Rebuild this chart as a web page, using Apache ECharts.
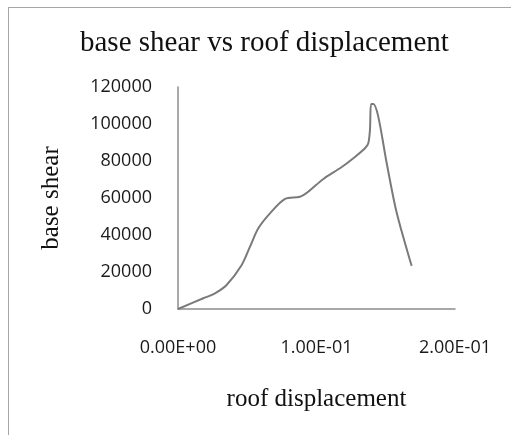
<!DOCTYPE html>
<html>
<head>
<meta charset="utf-8">
<script src="https://cdn.jsdelivr.net/npm/echarts@6/dist/echarts.min.js"></script>
<style>
  html, body { margin: 0; padding: 0; background: #fff; overflow: hidden; }
  .frame {
    position: absolute;
    left: 8px;
    top: 7px;
    width: 540px;
    height: 460px;
    border: 1px solid #a6a6a6;
  }
  #chart {
    position: absolute;
    top: 0;
    left: 0;
    width: 511px;
    height: 435px;
  }
</style>
</head>
<body>
<div class="frame"></div>
<div id="chart"></div>
<script>
// roof displacement (x) and base shear (y)
const displacement = [0, 0.0183, 0.0267, 0.0351, 0.046, 0.052, 0.058, 0.0664, 0.0773, 0.088, 0.094,
  0.105, 0.118, 0.1266, 0.135, 0.1374, 0.1386, 0.1394, 0.141, 0.1446, 0.1507, 0.158, 0.1687]
const baseShear = [0, 5800, 8500, 13000, 23800, 33700, 43600, 51700, 59500, 60700, 63400,
  70300, 76600, 81500, 86900, 89600, 96900, 110800, 110800, 104000, 78800, 51700, 23300]
const yTicks = [0, 120000, 20000]   // min, max, interval
const xTicks = [0, 0.2, 0.1]

function sci(v) {
  const s = v.toExponential(2).split('e')
  let exp = parseInt(s[1], 10)
  const sign = exp < 0 ? '-' : '+'
  exp = Math.abs(exp)
  return s[0] + 'E' + sign + (exp < 10 ? '0' + exp : exp)
}

const chart = echarts.init(document.getElementById('chart'))
const labelFont = {
  color: '#1a1a1a',
  fontFamily: 'Open Sans',
  fontSize: 18
}
const option = {
  animation: false,
  title: {
    text: 'base shear vs roof displacement',
    left: 75,
    top: 24,
    textStyle: {
      fontFamily: 'Liberation Serif',
      fontWeight: 'normal',
      fontSize: 29,
      color: '#111'
    }
  },
  grid: {
    left: 178,
    right: 56,
    top: 87,
    bottom: 126
  },
  xAxis: {
    type: 'value',
    min: xTicks[0],
    max: xTicks[1],
    interval: xTicks[2],
    name: 'roof displacement',
    nameLocation: 'middle',
    nameGap: 78,
    nameTextStyle: {
      fontFamily: 'Liberation Serif',
      fontSize: 25,
      color: '#111'
    },
    axisLine: { lineStyle: { color: '#8c8c8c', width: 1.5 } },
    axisTick: { show: false },
    splitLine: { show: false },
    axisLabel: Object.assign({ margin: 30, formatter: sci }, labelFont)
  },
  yAxis: {
    type: 'value',
    min: yTicks[0],
    max: yTicks[1],
    interval: yTicks[2],
    name: 'base shear',
    nameLocation: 'middle',
    nameGap: 114,
    nameTextStyle: {
      fontFamily: 'Liberation Serif',
      fontSize: 25,
      color: '#111'
    },
    axisLine: { show: true, lineStyle: { color: '#8c8c8c', width: 1.5 } },
    axisTick: { show: false },
    splitLine: { show: false },
    axisLabel: Object.assign({ margin: 26, formatter: v => String(v) }, labelFont)
  },
  series: [
    {
      type: 'line',
      smooth: 0.3,
      showSymbol: false,
      lineStyle: { color: '#7a7a7a', width: 2 },
      data: displacement.map((x, i) => [x, baseShear[i]])
    }
  ]
}
chart.setOption(option)
</script>
</body>
</html>
